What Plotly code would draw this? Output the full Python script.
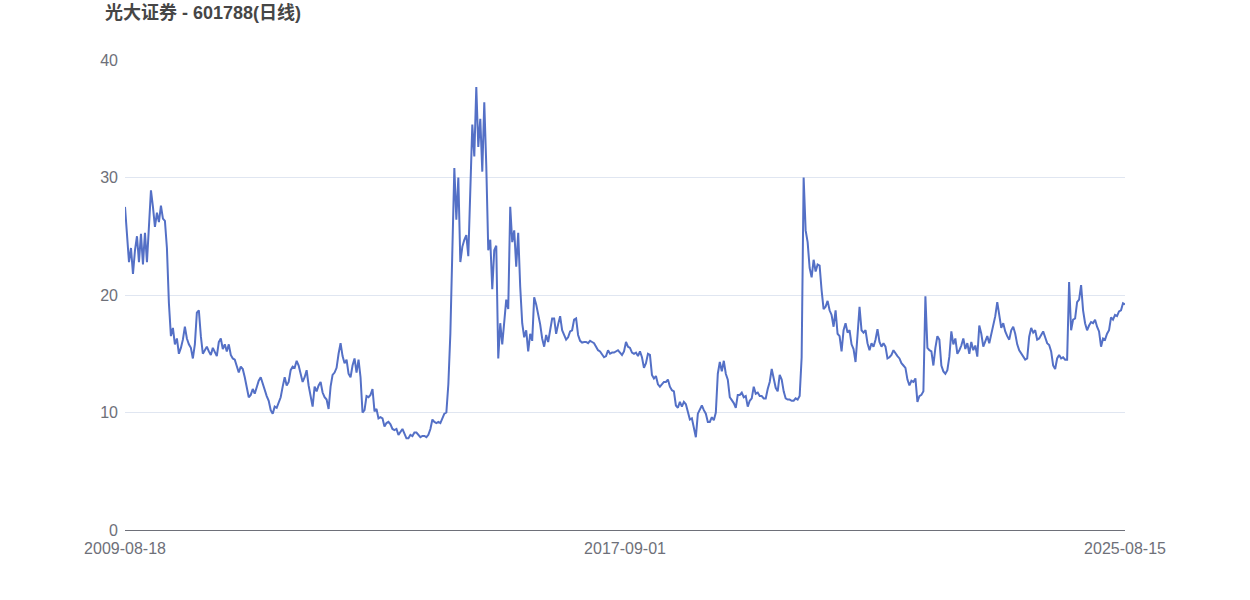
import plotly.graph_objects as go

title_text = "光大证券 - 601788(日线)"
date_labels = ["2009-08-18", "2017-09-01", "2025-08-15"]

# closing prices (roughly evenly spaced over trading days)
close_2009_2010 = [27.5, 24.7, 22.8, 24.0, 21.8, 23.8, 25.0, 22.8, 25.2, 22.6, 25.3, 22.8, 25.5, 28.9, 27.5,
                   25.8, 27.0, 26.2, 27.6, 26.5, 26.3, 24.0,
                   19.3, 16.5, 17.2, 15.8, 16.3, 15.0, 15.5, 16.2, 17.3, 16.3, 15.8, 15.5, 14.6, 15.8, 18.5,
                   18.7, 16.5, 15.0, 15.3, 15.6, 15.2, 14.9, 15.5, 15.2, 14.8, 16.0, 16.3, 15.4, 15.8, 15.2,
                   15.8, 14.9, 14.6, 14.5, 13.9, 13.4, 13.9, 13.7]
close_2011_2012 = [13.0, 12.0, 11.3, 11.5, 12.0, 11.6, 12.2, 12.7, 13.0, 12.5, 11.8, 11.4, 11.0, 10.2, 9.9,
                   10.5, 10.4, 10.8, 11.3, 12.2, 13.0, 12.3, 12.6, 13.6, 13.9, 13.8, 14.4, 14.0, 13.2, 12.6,
                   13.0, 13.6, 12.3, 11.2, 10.5, 12.2, 11.8, 12.3, 12.6, 11.7, 11.3, 11.1, 10.3, 12.2]
close_2013_2014 = [13.2, 13.4, 13.8, 15.0, 15.9, 14.8, 14.2, 14.5, 13.3, 13.0, 14.0, 14.6, 13.4, 14.5, 13.0,
                   10.0, 10.2, 11.4, 11.3, 11.5, 12.0, 10.1, 10.3, 9.5, 9.6, 9.5, 8.8, 9.1, 9.2, 9.0, 8.6,
                   8.5, 8.6, 8.1, 8.4, 8.6, 8.2, 7.8, 7.8, 8.1, 8.0, 8.3, 8.3, 8.1, 7.9, 8.0, 8.0, 7.9, 8.1,
                   8.6, 9.4, 9.2, 9.1, 9.2, 9.1, 9.5, 9.9, 10.0]
close_2015_2016 = [12.4, 16.7, 24.1, 30.8, 26.4, 30.0, 22.8, 24.1, 24.7, 25.1, 23.3, 28.5, 34.5, 31.8, 37.7,
                   32.6, 35.0, 30.5, 36.4, 31.0, 23.8, 24.7, 20.5, 23.8, 24.2, 14.6, 17.6, 15.8, 17.9, 19.6,
                   18.8, 27.5, 24.5, 25.5, 22.4, 25.3, 20.7, 17.6, 16.4, 17.0, 15.2, 16.7, 16.1, 19.8, 19.2,
                   18.4]
close_2016_2018 = [17.5, 16.3, 15.6, 16.6, 16.0, 17.0, 18.0, 18.0, 16.7, 17.5, 18.2, 17.0, 16.6, 16.2, 16.4,
                   16.9, 17.0, 17.9, 18.0, 16.6, 16.1, 15.95, 16.0, 16.0, 15.9, 16.1, 16.0, 15.9, 15.6, 15.3,
                   15.2, 14.9, 14.7, 14.8, 15.3, 15.0, 15.1, 15.1, 15.2, 15.3, 15.1, 14.9, 15.2, 16.0, 15.6,
                   15.5, 15.1, 15.0, 15.1, 14.8, 15.2, 14.7, 13.8, 14.2, 15.0, 14.9, 13.2, 12.9, 13.1, 12.4,
                   12.2, 12.4, 12.6, 12.6, 12.8, 12.2]
close_2018_2020 = [11.9, 11.8, 10.6, 10.4, 10.9, 10.5, 10.9, 10.7, 10.0, 9.4, 9.5, 8.8, 7.9, 9.9, 10.3, 10.6,
                   10.2, 9.9, 9.2, 9.2, 9.6, 9.35, 10.0, 13.3, 14.3, 13.5, 14.4, 13.3, 12.8, 11.3, 11.05,
                   10.8, 10.4, 11.5, 11.5, 11.7, 11.3, 11.4, 10.5, 11.0, 11.2, 12.2, 11.6, 11.7, 11.4, 11.4,
                   11.2, 11.2, 12.0, 12.6, 13.7, 13.0, 12.1, 11.8, 13.2, 12.8, 11.8, 11.2, 11.1, 11.1, 11.0,
                   11.0, 11.2, 11.1]
close_2020_2022 = [11.4, 14.7, 30.0, 25.5, 24.5, 22.3, 21.5, 23.0, 22.0, 22.6, 22.5, 20.4, 18.8, 19.0, 19.5,
                   18.7, 18.3, 17.3, 18.7, 16.7, 16.5, 15.2, 17.0, 17.6, 16.8, 17.0, 15.8, 15.4, 14.3, 16.6,
                   19.0, 17.0, 16.8, 17.0, 15.9, 15.3, 15.9, 15.6, 16.2, 17.1, 16.0, 15.6, 15.9, 15.6, 14.6,
                   14.7, 14.9, 15.3, 15.0, 14.8, 14.6]
close_2022_2023 = [14.2, 14.0, 13.8, 12.8, 12.3, 12.7, 12.6, 12.9, 10.9, 11.4, 11.5, 11.8, 19.9, 15.5, 15.3,
                   15.2, 14.0, 15.5, 16.5, 16.2, 14.0, 13.5, 13.3, 13.6, 14.75, 16.9, 15.8, 16.3, 15.0, 15.3,
                   15.7, 16.3, 15.4, 15.9, 15.0, 16.0, 15.3, 15.7, 14.75, 17.4, 16.7, 15.6, 16.0, 16.5, 15.9,
                   16.7, 17.3, 18.2, 19.4, 18.1]
close_2023_2025 = [17.2, 17.6, 16.9, 16.5, 16.2, 17.0, 17.3, 16.7, 15.8, 15.3, 15.0, 14.7, 14.5, 14.6, 16.45,
                   17.2, 16.8, 17.0, 16.2, 16.3, 16.6, 16.9, 16.4, 15.9, 15.75, 15.2, 14.0, 13.7, 14.6, 14.9,
                   14.6, 14.7, 14.5, 14.5, 21.1, 17.0, 17.9, 18.0, 19.4, 19.6, 20.85, 18.7, 17.6, 17.0, 17.4,
                   17.7, 17.6, 17.9, 17.3, 16.9, 15.6, 16.3, 16.2, 16.7, 17.0, 18.1, 17.9, 18.3, 18.2, 18.6,
                   18.7, 19.3, 19.2]

close = (close_2009_2010 + close_2011_2012 + close_2013_2014 + close_2015_2016 + close_2016_2018
         + close_2018_2020 + close_2020_2022 + close_2022_2023 + close_2023_2025)
idx = list(range(len(close)))
n = len(close)

font_fam = "Liberation Sans, Arial, Noto Sans CJK SC, sans-serif"
axis_col = "#6E7079"

W, H = 1250, 600

fig = go.Figure()
fig.add_trace(go.Scatter(
    x=idx, y=close, mode="lines",
    line=dict(color="#5470C6", width=2),
    hoverinfo="y",
))

fig.update_layout(
    width=W, height=H,
    margin=dict(l=125, r=125, t=60, b=70),
    paper_bgcolor="white", plot_bgcolor="white",
    showlegend=False,
    title=dict(
        text=title_text, xref="container", yref="container",
        x=105 / W, xanchor="left", y=1 - 13 / H, yanchor="middle",
        font=dict(family=font_fam, size=18, color="#464646", weight="bold"),
    ),
    xaxis=dict(
        range=[0, n - 1], showgrid=False, zeroline=False,
        showline=True, linecolor=axis_col, linewidth=1,
        tickmode="array", tickvals=[0, (n - 1) / 2, n - 1], ticktext=date_labels,
        ticks="", tickfont=dict(family=font_fam, size=16, color=axis_col),
        ticklabelstandoff=4,
    ),
    yaxis=dict(
        range=[0, 40], tickvals=[0, 10, 20, 30, 40],
        showgrid=True, gridcolor="#E0E6F1", gridwidth=1,
        zeroline=False, showline=False, ticks="",
        tickfont=dict(family=font_fam, size=16, color=axis_col),
        ticklabelstandoff=6,
    ),
)

# remove the default 8px page margin so the figure sits at the window's top-left
fig.write_html("out.html", config={"displayModeBar": False},
               post_script="document.body.style.margin='0';")
